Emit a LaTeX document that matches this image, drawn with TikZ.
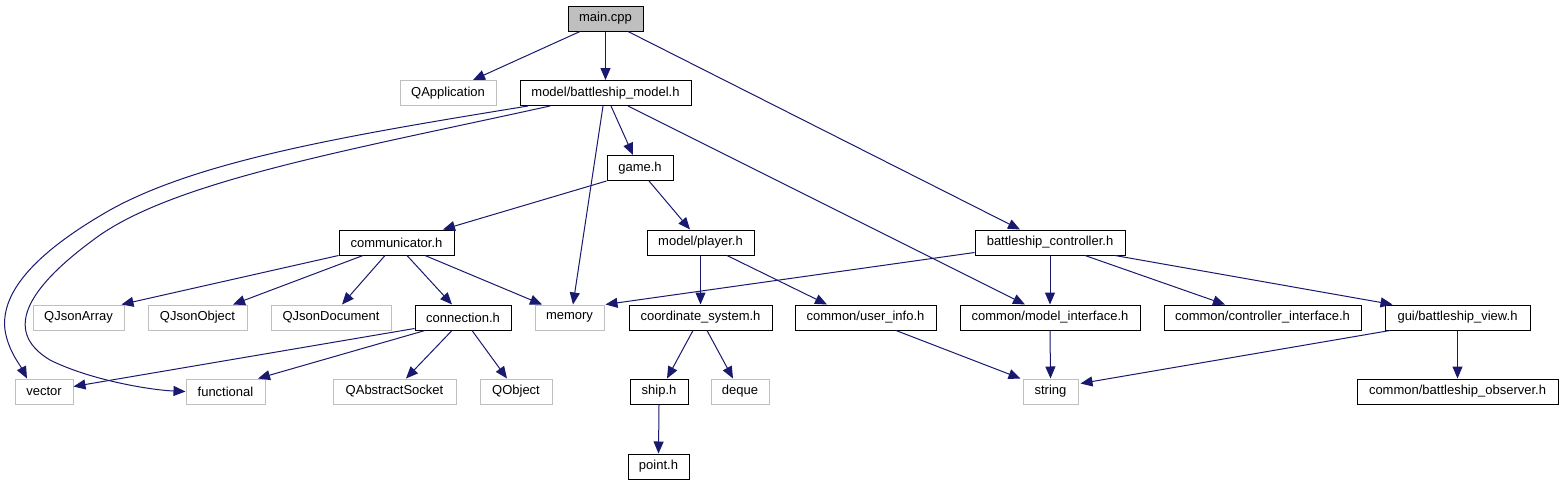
\documentclass[tikz,border=0pt]{standalone}
\usepackage{fontspec}
\setmainfont{Liberation Sans}
\usetikzlibrary{arrows.meta}
\definecolor{edgeblue}{RGB}{25,25,112}
\definecolor{greyline}{RGB}{191,191,191}
\begin{document}
\begin{tikzpicture}[x=1pt,y=-1pt,
  box/.style={draw=black,line width=1pt,minimum height=25pt,inner sep=0pt,font=\fontsize{13}{15}\selectfont,anchor=center},
  ext/.style={box,draw=greyline},
  root/.style={box,fill=greyline},
  e/.style={draw=edgeblue,line width=1pt,-{Triangle[length=12pt,width=10pt]}}]
\useasboundingbox[fill=white] (0,0) rectangle (1562,485);
% row 0
\node[root,minimum width=75pt] (main) at (605.5,18.5) {main.cpp};
% row 1
\node[ext,minimum width=96pt] (qapp) at (448,93) {QApplication};
\node[box,minimum width=171pt] (model) at (605.5,93) {model/battleship\_model.h};
% row 2
\node[box,minimum width=66pt] (game) at (640,168) {game.h};
% row 3
\node[box,minimum width=115pt] (comm) at (396.5,242.5) {communicator.h};
\node[box,minimum width=107pt] (player) at (700.5,242.5) {model/player.h};
\node[box,minimum width=150pt] (ctrl) at (1050,242.5) {battleship\_controller.h};
% row 4
\node[ext,minimum width=91pt] (jarr) at (78.5,317.5) {QJsonArray};
\node[ext,minimum width=99pt] (jobj) at (197.5,317.5) {QJsonObject};
\node[ext,minimum width=120pt] (jdoc) at (331,317.5) {QJsonDocument};
\node[box,minimum width=96pt] (conn) at (463,317.5) {connection.h};
\node[ext,minimum width=69pt] (mem) at (569.5,317.5) {memory};
\node[box,minimum width=143pt] (coord) at (700.5,317.5) {coordinate\_system.h};
\node[box,minimum width=141pt] (uinfo) at (865.5,317.5) {common/user\_info.h};
\node[box,minimum width=180pt] (mi) at (1050,317.5) {common/model\_interface.h};
\node[box,minimum width=197pt] (ci) at (1262.5,317.5) {common/controller\_interface.h};
\node[box,minimum width=145pt] (view) at (1457.5,317.5) {gui/battleship\_view.h};
% row 5
\node[ext,minimum width=58pt] (vec) at (44,391.5) {vector};
\node[ext,minimum width=79pt] (func) at (225.5,391.5) {functional};
\node[ext,minimum width=123pt] (qas) at (394.5,391.5) {QAbstractSocket};
\node[ext,minimum width=72pt] (qobj) at (516,391.5) {QObject};
\node[box,minimum width=58pt] (ship) at (659,391.5) {ship.h};
\node[ext,minimum width=58pt] (deque) at (740,391.5) {deque};
\node[ext,minimum width=55pt] (str) at (1050.5,391.5) {string};
\node[box,minimum width=201pt] (obs) at (1457.5,391.5) {common/battleship\_observer.h};
% row 6
\node[box,minimum width=61pt] (point) at (658.5,466.5) {point.h};
% edges
\draw[e] ([xshift=-25.5pt]main.south) -- ([xshift=25pt]qapp.north);
\draw[e] (main.south) -- (model.north);
\draw[e] ([xshift=22.5pt]main.south) -- ([xshift=-30pt]ctrl.north);
\draw[e] ([xshift=-2.5pt]model.south) -- ([xshift=3.5pt]mem.north);
\draw[e] ([xshift=5.5pt]model.south) -- ([xshift=-7pt]game.north);
\draw[e] ([xshift=22.5pt]model.south) -- ([xshift=-25pt]mi.north);
\draw[e] ([xshift=-77.5pt]model.south) .. controls (350,135) and (200,160) .. (110,210)
   .. controls (40,250) and (0,290) .. (5,330) .. controls (8,350) and (20,365) .. ([xshift=-17pt]vec.north);
\draw[e] ([xshift=-55.5pt]model.south) .. controls (350,150) and (180,180) .. (100,235)
   .. controls (30,285) and (0,330) .. (50,360) .. controls (90,380) and (150,390) .. (func.west);
\draw[e] (game.south west) -- ([xshift=46.5pt]comm.north);
\draw[e] ([xshift=9pt]game.south) -- ([xshift=-10.5pt]player.north);
\draw[e] (comm.south west) -- ([xshift=-3pt]jarr.north east);
\draw[e] ([xshift=-33.5pt]comm.south) -- ([xshift=35.5pt]jobj.north);
\draw[e] ([xshift=-11.5pt]comm.south) -- ([xshift=11pt]jdoc.north);
\draw[e] ([xshift=10.5pt]comm.south) -- ([xshift=-11pt]conn.north);
\draw[e] ([xshift=28.5pt]comm.south) -- ([xshift=-27.5pt]mem.north);
\draw[e] ([yshift=2pt]conn.south west) -- ([yshift=5pt]vec.east);
\draw[e] ([xshift=-38pt]conn.south) -- ([xshift=32.5pt]func.north);
\draw[e] ([xshift=-11pt]conn.south) -- ([xshift=11.5pt]qas.north);
\draw[e] ([xshift=9pt]conn.south) -- ([xshift=-9pt]qobj.north);
\draw[e] (player.south) -- (coord.north);
\draw[e] ([xshift=26.5pt]player.south) -- ([xshift=-38.5pt]uinfo.north);
\draw[e] ([xshift=-7.5pt]coord.south) -- ([xshift=8pt]ship.north);
\draw[e] ([xshift=6.5pt]coord.south) -- ([xshift=-7pt]deque.north);
\draw[e] (ship.south) -- (point.north);
\draw[e] ([xshift=30.5pt]uinfo.south) -- ([xshift=-2pt]str.north west);
\draw[e] ([yshift=3pt]ctrl.south west) -- ([xshift=1pt]mem.north east);
\draw[e] (ctrl.south) -- (mi.north);
\draw[e] ([xshift=35pt]ctrl.south) -- ([xshift=-37.5pt]ci.north);
\draw[e] ([xshift=65pt]ctrl.south) -- ([xshift=-65pt]view.north);
\draw[e] (mi.south) -- (str.north);
\draw[e] ([xshift=-67.5pt]view.south) -- ([xshift=2pt,yshift=8pt]str.east);
\draw[e] (view.south) -- (obs.north);
\end{tikzpicture}
\end{document}
